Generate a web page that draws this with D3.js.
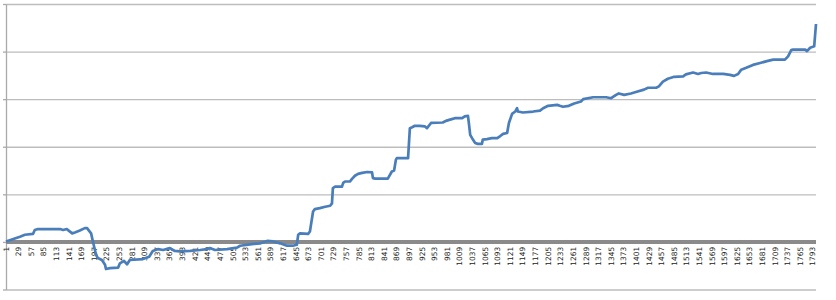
<!DOCTYPE html>
<html lang="en">
<head>
<meta charset="utf-8">
<title>Cumulative line</title>
<script src="https://cdn.jsdelivr.net/npm/d3@7"></script>
<style>
	body { margin: 0; background: #fff; }
	.line { fill: none; stroke: #4a7ebb; stroke-width: 2.7px; stroke-linejoin: round; }
	.grid line { stroke: #bdbdbd; stroke-width: 1.4px; }
	.grid path { display: none; }
	.yaxis path, .yaxis line { stroke: #aaa; stroke-width: 1.3px; }
	.xlabel { font-family: "DejaVu Sans", sans-serif; font-size: 7.4px; fill: #222; }
</style>
</head>
<body>
<div id="chart"></div>
<script>
// data: day number and cumulative value
var days = [1, 32, 43, 61, 65, 72, 121, 128, 136, 148, 154, 165, 176, 181, 190, 194, 201, 205, 214, 221,
	223, 232, 250, 254, 263, 270, 276, 305, 319, 327, 339, 350, 365, 376, 387, 410, 432, 447, 454, 465,
	492, 514, 521, 543, 565, 581, 594, 610, 625, 638, 647, 650, 654, 672, 676, 683, 687, 698, 710, 721,
	725, 727, 732, 747, 750, 754, 765, 769, 776, 783, 792, 803, 814, 816, 821, 849, 858, 863, 867, 869,
	894, 898, 903, 909, 920, 931, 936, 945, 971, 980, 991, 998, 1014, 1020, 1027, 1029, 1032, 1038, 1043, 1049,
	1058, 1060, 1069, 1080, 1092, 1098, 1105, 1114, 1118, 1125, 1132, 1136, 1138, 1149, 1172, 1187, 1194, 1205, 1225, 1231,
	1238, 1251, 1263, 1278, 1283, 1305, 1334, 1345, 1356, 1362, 1374, 1389, 1400, 1418, 1427, 1445, 1451, 1460, 1471, 1485,
	1505, 1511, 1527, 1538, 1545, 1556, 1571, 1594, 1609, 1618, 1627, 1634, 1645, 1660, 1676, 1691, 1705, 1731, 1738, 1745,
	1749, 1767, 1776, 1780, 1787, 1796, 1800];

var values = [0.01, 0.11, 0.15, 0.17, 0.25, 0.27, 0.27, 0.25, 0.27, 0.18, 0.20, 0.24, 0.29, 0.29, 0.18, 0.01, -0.27, -0.34, -0.38, -0.48,
	-0.57, -0.55, -0.54, -0.45, -0.40, -0.47, -0.38, -0.36, -0.31, -0.19, -0.15, -0.17, -0.13, -0.19, -0.20, -0.19, -0.17, -0.15, -0.13, -0.17,
	-0.15, -0.12, -0.08, -0.05, -0.03, 0.02, 0.01, -0.03, -0.08, -0.08, -0.06, 0.15, 0.18, 0.17, 0.22, 0.64, 0.69, 0.71, 0.74, 0.76,
	0.81, 1.13, 1.16, 1.16, 1.24, 1.27, 1.27, 1.32, 1.39, 1.43, 1.45, 1.47, 1.46, 1.34, 1.33, 1.33, 1.48, 1.50, 1.73, 1.76,
	1.76, 2.39, 2.41, 2.44, 2.44, 2.43, 2.39, 2.50, 2.51, 2.55, 2.58, 2.60, 2.60, 2.64, 2.65, 2.50, 2.25, 2.15, 2.08, 2.06,
	2.06, 2.15, 2.16, 2.18, 2.18, 2.22, 2.27, 2.29, 2.50, 2.69, 2.74, 2.81, 2.74, 2.72, 2.74, 2.76, 2.81, 2.86, 2.88, 2.86,
	2.84, 2.86, 2.91, 2.95, 3.00, 3.04, 3.04, 3.02, 3.09, 3.12, 3.09, 3.12, 3.15, 3.20, 3.24, 3.24, 3.27, 3.37, 3.43, 3.47,
	3.48, 3.52, 3.56, 3.53, 3.55, 3.56, 3.53, 3.53, 3.51, 3.49, 3.53, 3.62, 3.66, 3.72, 3.76, 3.80, 3.83, 3.83, 3.90, 4.03,
	4.04, 4.04, 4.04, 4.01, 4.08, 4.11, 4.58];

var xLabels = [1, 29, 57, 85, 113, 141, 169, 197, 225, 253, 281, 309, 337, 365, 393, 421, 449, 477, 505, 533,
	561, 589, 617, 645, 673, 701, 729, 757, 785, 813, 841, 869, 897, 925, 953, 981, 1009, 1037, 1065, 1093,
	1121, 1149, 1177, 1205, 1233, 1261, 1289, 1317, 1345, 1373, 1401, 1429, 1457, 1485, 1513, 1541, 1569, 1597, 1625, 1653,
	1681, 1709, 1737, 1765, 1793];

var yTicks = [-1, 0, 1, 2, 3, 4, 5];

var width = 836, height = 300;
var margin = { left: 6, right: 20, top: 4, bottom: 10.5 };
var plotLeft = margin.left,
	plotRight = width - margin.right,
	plotTop = margin.top,
	plotBottom = height - margin.bottom;

var svg = d3.select("#chart")
	.append("svg")
	.attr("width", width)
	.attr("height", height);

var x = d3.scaleLinear().domain([1, 1800]).range([plotLeft, plotRight]);
var y = d3.scaleLinear().domain([-1, 5]).range([plotBottom, plotTop]);

// horizontal gridlines
svg.append("g")
	.attr("class", "grid")
	.attr("transform", "translate(" + plotLeft + ",0)")
	.call(d3.axisLeft(y).tickValues(yTicks).tickSize(-(plotRight - plotLeft)).tickFormat(""));

// y axis line with short outer ticks
svg.append("g")
	.attr("class", "yaxis")
	.attr("transform", "translate(" + plotLeft + ",0)")
	.call(d3.axisLeft(y).tickValues(yTicks).tickSize(3).tickSizeOuter(0).tickFormat(""));

// heavy zero line
svg.append("line")
	.attr("x1", plotLeft)
	.attr("x2", plotRight)
	.attr("y1", y(0))
	.attr("y2", y(0))
	.attr("stroke", "#8a8a8a")
	.attr("stroke-width", 4);

// category labels, rotated
svg.append("g")
	.selectAll("text")
	.data(xLabels)
	.enter()
	.append("text")
	.attr("class", "xlabel")
	.attr("text-anchor", "end")
	.attr("dy", "0.35em")
	.attr("transform", function (d) {
		return "translate(" + x(d) + "," + (y(0) + 5) + ") rotate(-90)";
	})
	.text(function (d) { return d; });

var points = days.map(function (d, i) { return { day: d, value: values[i] }; });

var line = d3.line()
	.x(function (d) { return x(d.day); })
	.y(function (d) { return y(d.value); });

svg.append("path")
	.datum(points)
	.attr("class", "line")
	.attr("d", line);
</script>
</body>
</html>
